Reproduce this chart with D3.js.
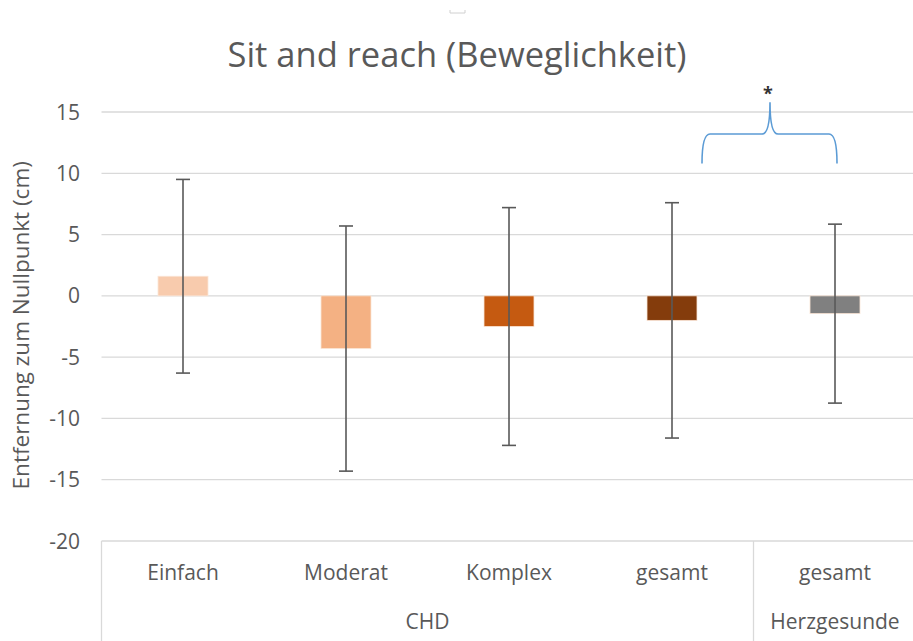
<!DOCTYPE html>
<html>
<head>
<meta charset="utf-8">
<script src="https://cdn.jsdelivr.net/npm/d3@7"></script>
<style>
  body { margin: 0; background: #fff; }
  svg { display: block; font-family: "Open Sans", "Noto Sans", sans-serif; }
</style>
</head>
<body>
<script>
// data
var categories = ["Einfach", "Moderat", "Komplex", "gesamt", "gesamt"];
var groups = ["CHD", "CHD", "CHD", "CHD", "Herzgesunde"];
var means = [1.6, -4.3, -2.5, -2.0, -1.45];
var sds = [7.9, 10.0, 9.7, 9.6, 7.3];
var barColors = ["#F8CBAD", "#F4B183", "#C55A11", "#843C0C", "#808080"];
var yTicks = [15, 10, 5, 0, -5, -10, -15, -20];

var w = 913, h = 641;
var plotLeft = 101.5, plotRight = 916.5, plotTop = 112, plotBottom = 541;

var svg = d3.select("body").append("svg")
    .attr("width", w)
    .attr("height", h);

var x = d3.scaleBand()
    .domain(d3.range(categories.length))
    .range([plotLeft, plotRight]);

var y = d3.scaleLinear()
    .domain([-20, 15])
    .range([plotBottom, plotTop]);

var barW = 50;

// gridlines
svg.append("g")
    .selectAll("line")
    .data(yTicks.filter(function(d) { return d > -20; }))
    .enter().append("line")
    .attr("x1", plotLeft).attr("x2", plotRight)
    .attr("y1", function(d) { return y(d); })
    .attr("y2", function(d) { return y(d); })
    .attr("stroke", "#d9d9d9")
    .attr("stroke-width", 1.3);

// y axis labels
svg.append("g")
    .selectAll("text")
    .data(yTicks)
    .enter().append("text")
    .attr("x", 80)
    .attr("y", function(d) { return y(d); })
    .attr("dy", "0.36em")
    .attr("text-anchor", "end")
    .attr("fill", "#595959")
    .attr("font-size", 21)
    .text(function(d) { return d; });

svg.append("text")
    .attr("transform", "translate(29," + y(-2.4) + ") rotate(-90)")
    .attr("text-anchor", "middle")
    .attr("fill", "#595959")
    .attr("font-size", 22.5)
    .text("Entfernung zum Nullpunkt (cm)");

// bars
svg.append("g")
    .selectAll("rect")
    .data(means)
    .enter().append("rect")
    .attr("x", function(d, i) { return x(i) + x.bandwidth() / 2 - barW / 2; })
    .attr("y", function(d) { return y(Math.max(0, d)); })
    .attr("width", barW)
    .attr("height", function(d) { return Math.abs(y(d) - y(0)); })
    .attr("fill", function(d, i) { return barColors[i]; })
    .attr("stroke", "#fbe5d6")
    .attr("stroke-width", 0.8);

// error bars
var err = svg.append("g")
    .attr("stroke", "#595959")
    .attr("stroke-width", 1.6);

means.forEach(function(m, i) {
    var cx = x(i) + x.bandwidth() / 2;
    err.append("line")
        .attr("x1", cx).attr("x2", cx)
        .attr("y1", y(m + sds[i])).attr("y2", y(m - sds[i]));
    [m + sds[i], m - sds[i]].forEach(function(v) {
        err.append("line")
            .attr("x1", cx - 7).attr("x2", cx + 7)
            .attr("y1", y(v)).attr("y2", y(v));
    });
});

// category axis box
var ax = svg.append("g")
    .attr("stroke", "#d9d9d9")
    .attr("stroke-width", 1.3);
ax.append("line").attr("x1", plotLeft).attr("x2", plotRight).attr("y1", plotBottom).attr("y2", plotBottom);
ax.append("line").attr("x1", plotLeft).attr("x2", plotLeft).attr("y1", plotBottom).attr("y2", h);
ax.append("line").attr("x1", x(4)).attr("x2", x(4)).attr("y1", plotBottom).attr("y2", h);

svg.append("g")
    .selectAll("text")
    .data(categories)
    .enter().append("text")
    .attr("x", function(d, i) { return x(i) + x.bandwidth() / 2; })
    .attr("y", 580)
    .attr("text-anchor", "middle")
    .attr("fill", "#595959")
    .attr("font-size", 21)
    .text(function(d) { return d; });

svg.append("text")
    .attr("x", (plotLeft + x(4)) / 2)
    .attr("y", 629)
    .attr("text-anchor", "middle")
    .attr("fill", "#595959")
    .attr("font-size", 21)
    .text(groups[0]);

svg.append("text")
    .attr("x", x(4) + x.bandwidth() / 2)
    .attr("y", 629)
    .attr("text-anchor", "middle")
    .attr("fill", "#595959")
    .attr("font-size", 21)
    .text(groups[4]);

// title
svg.append("text")
    .attr("x", 457)
    .attr("y", 67)
    .attr("text-anchor", "middle")
    .attr("fill", "#595959")
    .attr("font-size", 34.5)
    .text("Sit and reach (Beweglichkeit)");

// significance bracket between gesamt CHD and Herzgesunde
var bx1 = 702, bx2 = 837, bmid = 770;
var by0 = y(10.8), by1 = y(13.2), byTop = y(15.8);
svg.append("path")
    .attr("d", "M" + bx1 + "," + by0 +
        " Q" + bx1 + "," + by1 + " " + (bx1 + 8) + "," + by1 +
        " L" + (bmid - 8) + "," + by1 +
        " Q" + bmid + "," + by1 + " " + bmid + "," + byTop +
        " Q" + bmid + "," + by1 + " " + (bmid + 8) + "," + by1 +
        " L" + (bx2 - 8) + "," + by1 +
        " Q" + bx2 + "," + by1 + " " + bx2 + "," + by0)
    .attr("fill", "none")
    .attr("stroke", "#5B9BD5")
    .attr("stroke-width", 1.6);

svg.append("text")
    .attr("x", 768)
    .attr("y", 100)
    .attr("text-anchor", "middle")
    .attr("fill", "#333")
    .attr("font-size", 18)
    .attr("font-weight", "bold")
    .text("*");

// small handle mark at top
svg.append("path")
    .attr("d", "M450,10 L450,13 L465,13 L465,10")
    .attr("fill", "none")
    .attr("stroke", "#d0d0d0")
    .attr("stroke-width", 1);
</script>
</body>
</html>
